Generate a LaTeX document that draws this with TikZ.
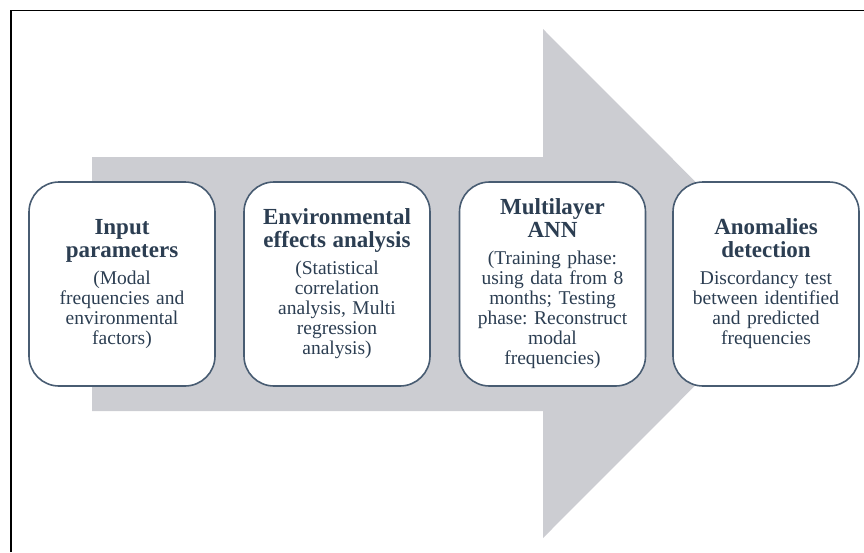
\documentclass[tikz,border=0pt]{standalone}
\usepackage{fontspec}
\setmainfont{Liberation Serif}
\frenchspacing
\definecolor{arrowgrey}{RGB}{204,205,210}
\definecolor{boxline}{RGB}{72,92,114}
\definecolor{boxtext}{RGB}{44,62,82}
\newcommand{\titlefont}{\fontsize{23}{23}\selectfont\bfseries}
\newcommand{\bodyfont}{\fontsize{19.5}{20}\selectfont}
\tikzset{
  stagebox/.style={draw=boxline, line width=1.6pt, fill=white,
    rounded corners=30pt, minimum width=186pt, minimum height=204pt},
  stagetext/.style={text width=180pt, align=center, text=boxtext,
    font=\bodyfont, inner sep=0pt},
}
\begin{document}
\begin{tikzpicture}[x=1pt, y=-1pt]
  \useasboundingbox (0,0) rectangle (864,552);
  % frame lines along the top and left edges
  \draw[line width=1.6pt] (11,552) -- (11,10.5) -- (864,10.5);
  % large process arrow in the background
  \fill[arrowgrey] (92,157) -- (543,157) -- (543,29) -- (797,283.5)
    -- (543,538) -- (543,411) -- (92,411) -- cycle;
  % stage boxes
  \node[stagebox] (b1) at (122,284) {};
  \node[stagebox] (b2) at (337,284) {};
  \node[stagebox] (b3) at (552.5,284) {};
  \node[stagebox] (b4) at (766,284) {};
  % stage texts
  \node[stagetext] (t1) at (b1.center)
    {{\titlefont Input\\ parameters\\[7pt]}(Modal\\ frequencies and\\ environmental\\ factors)};
  \node[stagetext] (t2) at (b2.center)
    {{\titlefont Environmental\\ effects analysis\\[7pt]}(Statistical\\ correlation\\ analysis, Multi\\ regression\\ analysis)};
  \node[stagetext] (t3) at (b3.center)
    {{\titlefont Multilayer\\ ANN\\[7pt]}(Training phase:\\ using data from 8\\ months; Testing\\ phase: Reconstruct\\ modal\\ frequencies)};
  \node[stagetext] (t4) at (b4.center)
    {{\titlefont Anomalies\\ detection\\[7pt]}Discordancy test\\ between identified\\ and predicted\\ frequencies};
\end{tikzpicture}
\end{document}
